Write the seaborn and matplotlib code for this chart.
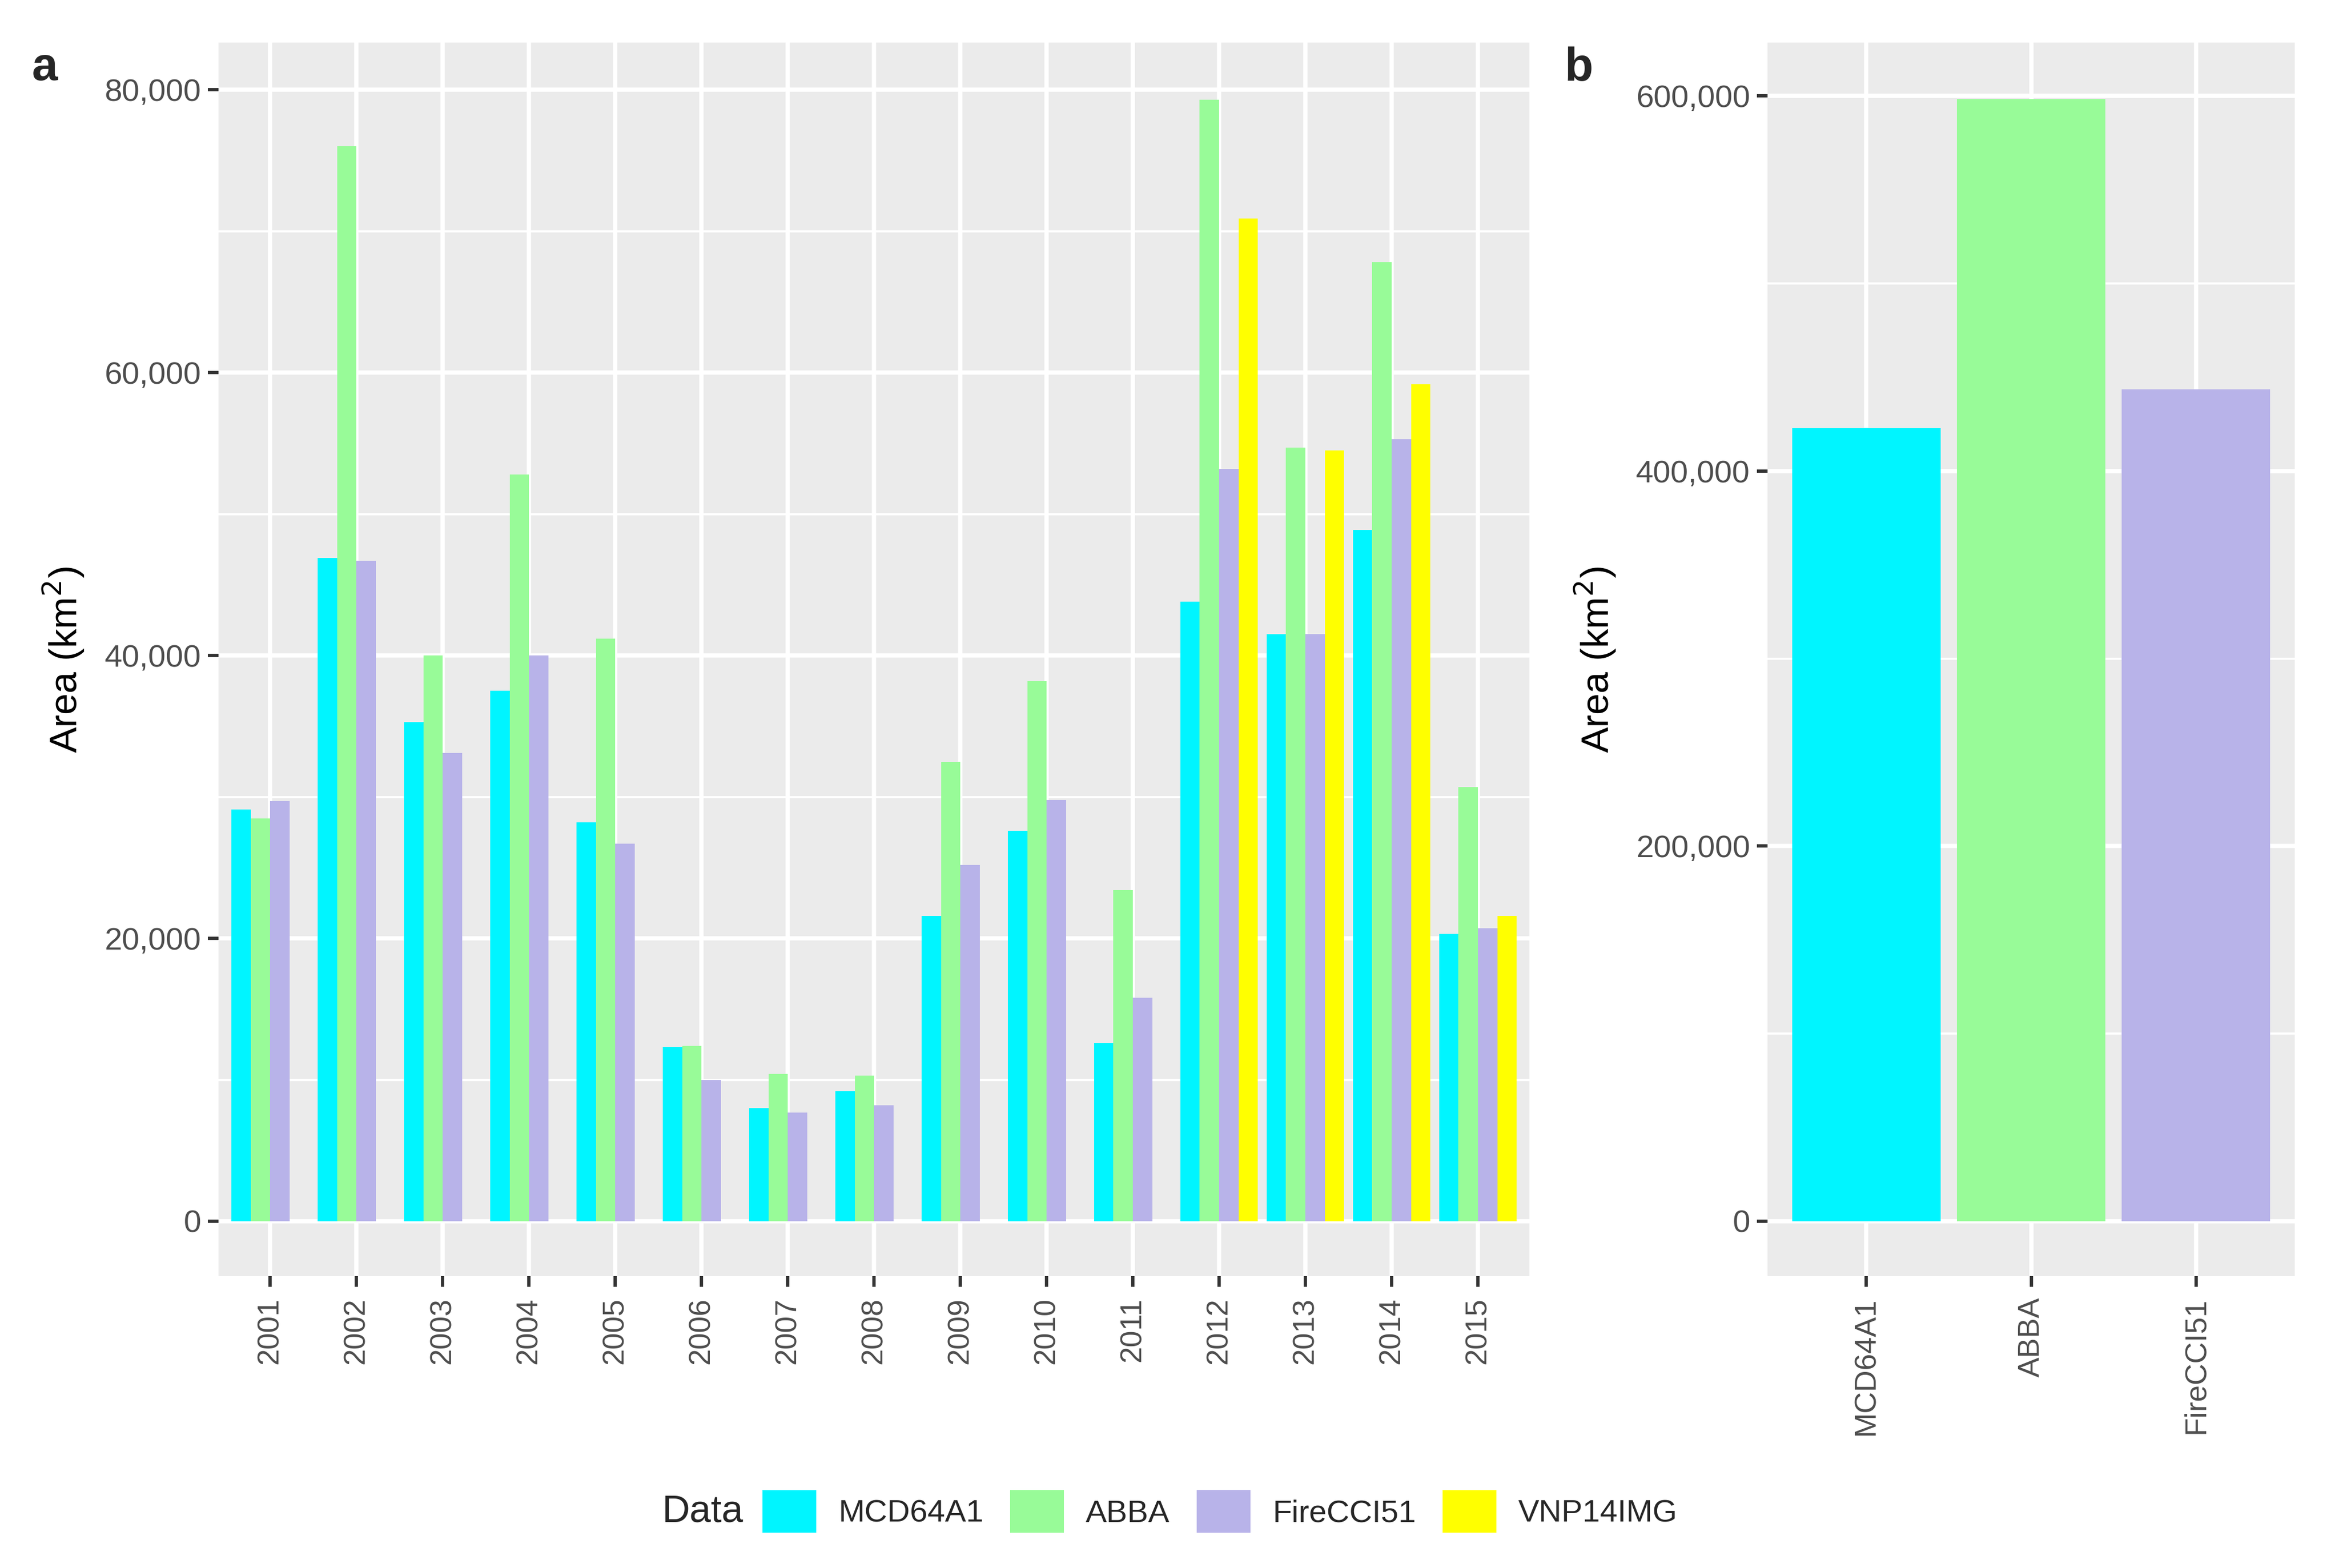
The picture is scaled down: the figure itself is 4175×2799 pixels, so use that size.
import pandas as pd
import seaborn as sns
import matplotlib.pyplot as plt
import matplotlib.patches as mpatches
from matplotlib.ticker import FuncFormatter, MultipleLocator


# yearly burned area (km2)
years = ['2001', '2002', '2003', '2004', '2005', '2006', '2007', '2008',
         '2009', '2010', '2011', '2012', '2013', '2014', '2015']
mcd64a1 = [29100, 46900, 35300, 37500, 28200, 12300, 8000, 9200,
           21600, 27600, 12600, 43800, 41500, 48900, 20300]
abba = [28500, 76000, 40000, 52800, 41200, 12400, 10400, 10300,
        32500, 38200, 23400, 79300, 54700, 67800, 30700]
firecci51 = [29700, 46700, 33100, 40000, 26700, 10000, 7700, 8200,
             25200, 29800, 15800, 53200, 41500, 55300, 20700]
# VIIRS only from 2012 onwards
vnp_years = ['2012', '2013', '2014', '2015']
vnp14img = [70900, 54500, 59200, 21600]

# total area over the period, panel b
tot_names = ['MCD64A1', 'ABBA', 'FireCCI51']
tot_area = [422800, 598400, 443600]

datasets = ['MCD64A1', 'ABBA', 'FireCCI51', 'VNP14IMG']
colors = ['#00F5FF', '#98FB98', '#B8B3E9', '#FFFF00']
pal = dict(zip(datasets, colors))

# long table for seaborn
df = pd.concat([
    pd.DataFrame({'year': years, 'area': mcd64a1, 'data': 'MCD64A1'}),
    pd.DataFrame({'year': years, 'area': abba, 'data': 'ABBA'}),
    pd.DataFrame({'year': years, 'area': firecci51, 'data': 'FireCCI51'}),
    pd.DataFrame({'year': vnp_years, 'area': vnp14img, 'data': 'VNP14IMG'}),
], ignore_index=True)

sns.set_theme(style='darkgrid', rc={'axes.facecolor': '#EBEBEB', 'grid.color': 'white'})
plt.rcParams['font.family'] = ['Liberation Sans', 'DejaVu Sans']

fig = plt.figure(figsize=(4175 / 300, 2799 / 300), dpi=300)
ax1 = fig.add_axes([0.0934, 0.186, 0.5606, 0.7867])
ax2 = fig.add_axes([0.7557, 0.186, 0.2254, 0.7867])

sns.barplot(data=df, x='year', y='area', hue='data', hue_order=datasets, order=years,
            palette=pal, width=0.9, saturation=1, errorbar=None, legend=False,
            linewidth=0, ax=ax1)

sns.barplot(x=tot_names, y=tot_area, hue=tot_names, palette=pal, width=0.9,
            saturation=1, errorbar=None, legend=False, linewidth=0, ax=ax2)

comma = FuncFormatter(lambda v, p: f'{int(v):,}')

ax1.set_xlim(-0.6, len(years) - 0.4)
ax1.set_ylim(-3900, 83330)
ax1.yaxis.set_major_locator(MultipleLocator(20000))
ax1.yaxis.set_minor_locator(MultipleLocator(10000))

ax2.set_xlim(-0.6, 2.6)
ax2.set_ylim(-29400, 628300)
ax2.yaxis.set_major_locator(MultipleLocator(200000))
ax2.yaxis.set_minor_locator(MultipleLocator(100000))

for ax in [ax1, ax2]:
    ax.yaxis.set_major_formatter(comma)
    ax.set_axisbelow(True)
    ax.grid(which='major', color='white', lw=1.8)
    ax.grid(which='minor', axis='y', color='white', lw=0.9)
    ax.tick_params(which='major', left=True, bottom=True, length=4.5, width=1.4,
                   color='#333333', labelcolor='#4D4D4D', pad=3)
    ax.tick_params(which='minor', length=0)
    ax.tick_params(axis='x', labelsize=12.8, labelrotation=90, pad=4.5)
    ax.tick_params(axis='y', labelsize=13.5)
    ax.set_xlabel('')
    ax.set_ylabel('Area (km$^2$)', fontsize=16.5, color='black', labelpad=8)
    for s in ax.spines.values():
        s.set_visible(False)

fig.text(0.0191, 0.949, 'a', fontsize=20, fontweight='bold', ha='center', va='baseline')
fig.text(0.675, 0.949, 'b', fontsize=20, fontweight='bold', ha='center', va='baseline')

# legend along the bottom, title on the left
handles = [mpatches.Patch(facecolor=pal[d], edgecolor='none', label=d) for d in datasets]
fig.text(0.283, 0.036, 'Data', fontsize=16.5, ha='left', va='center')
fig.legend(handles=handles, loc='center left', bbox_to_anchor=(0.326, 0.036), ncol=4,
           frameon=False, fontsize=13.5, handlelength=1.7, handleheight=1.7,
           handletextpad=0.7, columnspacing=0.85, borderpad=0, borderaxespad=0)

plt.savefig('out.png', dpi=300)
